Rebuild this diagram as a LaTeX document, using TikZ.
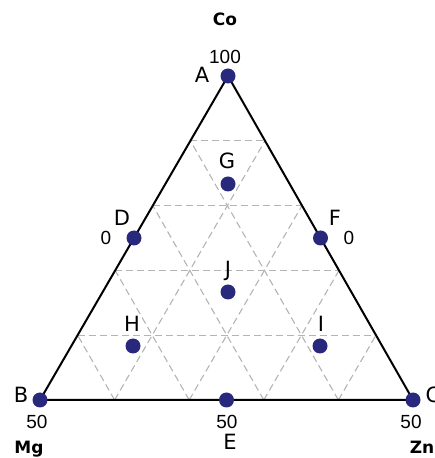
\documentclass[tikz,border=0pt]{standalone}
\usepackage{fontspec}
\setmainfont{DejaVu Sans}
\newfontfamily\numfont{Liberation Sans}
\usetikzlibrary{calc}
\definecolor{dotblue}{RGB}{40,40,125}
\definecolor{gridgray}{RGB}{180,180,180}
\tikzset{
  pt/.style={circle,fill=dotblue,inner sep=0pt,minimum size=15pt},
  lbl/.style={inner sep=0pt,font=\fontsize{21}{21}\selectfont},
  num/.style={inner sep=0pt,font=\numfont\fontsize{19}{19}\selectfont},
  elem/.style={inner sep=0pt,anchor=base,font=\bfseries\fontsize{17}{17}\selectfont},
  gridline/.style={gridgray,dashed,dash pattern=on 7pt off 4pt,line width=1.1pt},
  edge/.style={black,line width=2pt}
}
\begin{document}
\begin{tikzpicture}[x=1pt,y=1pt]
\useasboundingbox (0,0) rectangle (435,458);
\coordinate (cA) at (228,382);
\coordinate (cB) at (40,58);
\coordinate (cC) at (413,58);
% grid
\foreach \i in {1,...,4}{
  \draw[gridline] ($(cA)!\i/5!(cB)$) -- ($(cA)!\i/5!(cC)$);
  \draw[gridline] ($(cB)!\i/5!(cC)$) -- ($(cC)!{1-\i/5}!(cA)$);
  \draw[gridline] ($(cB)!\i/5!(cC)$) -- ($(cB)!\i/5!(cA)$);
}
\draw[edge,line join=miter] (cA) -- (cB) -- (cC) -- cycle;
% points
\node[pt] (A) at (cA) {};
\node[pt] (B) at (cB) {};
\node[pt] (C) at (cC) {};
\node[pt] (D) at ($(cA)!0.5!(cB)$) {};
\node[pt] (E) at ($(cB)!0.5!(cC)$) {};
\node[pt] (F) at ($(cA)!0.5!(cC)$) {};
\node[pt] (G) at (228,274) {};
\node[pt] (J) at (228,166) {};
\node[pt] (H) at (133,112) {};
\node[pt] (I) at (320,112) {};
% labels
\node[lbl] (lA) at (202,383) {A};
\node[lbl] (lB) at (21,63) {B};
\node[lbl] (lC) at (433,63) {C};
\node[lbl] (lD) at (122,240) {D};
\node[lbl] (lE) at (230,16) {E};
\node[lbl] (lF) at (335,240) {F};
\node[lbl] (lG) at (227,297) {G};
\node[lbl] (lJ) at (228,187) {J};
\node[lbl] (lH) at (132,134) {H};
\node[lbl] (lI) at (321,134) {I};
% numbers
\node[num] (n100) at (225,401) {100};
\node[num] (n0l) at (106,220) {0};
\node[num] (n0r) at (349,220) {0};
\node[num] (n50l) at (37,36) {50};
\node[num] (n50m) at (227,36) {50};
\node[num] (n50r) at (411,36) {50};
% elements
\node[elem] (Co) at (225,432) {Co};
\node[elem] (Mg) at (29,5) {Mg};
\node[elem] (Zn) at (422,5) {Zn};
\end{tikzpicture}
\end{document}
